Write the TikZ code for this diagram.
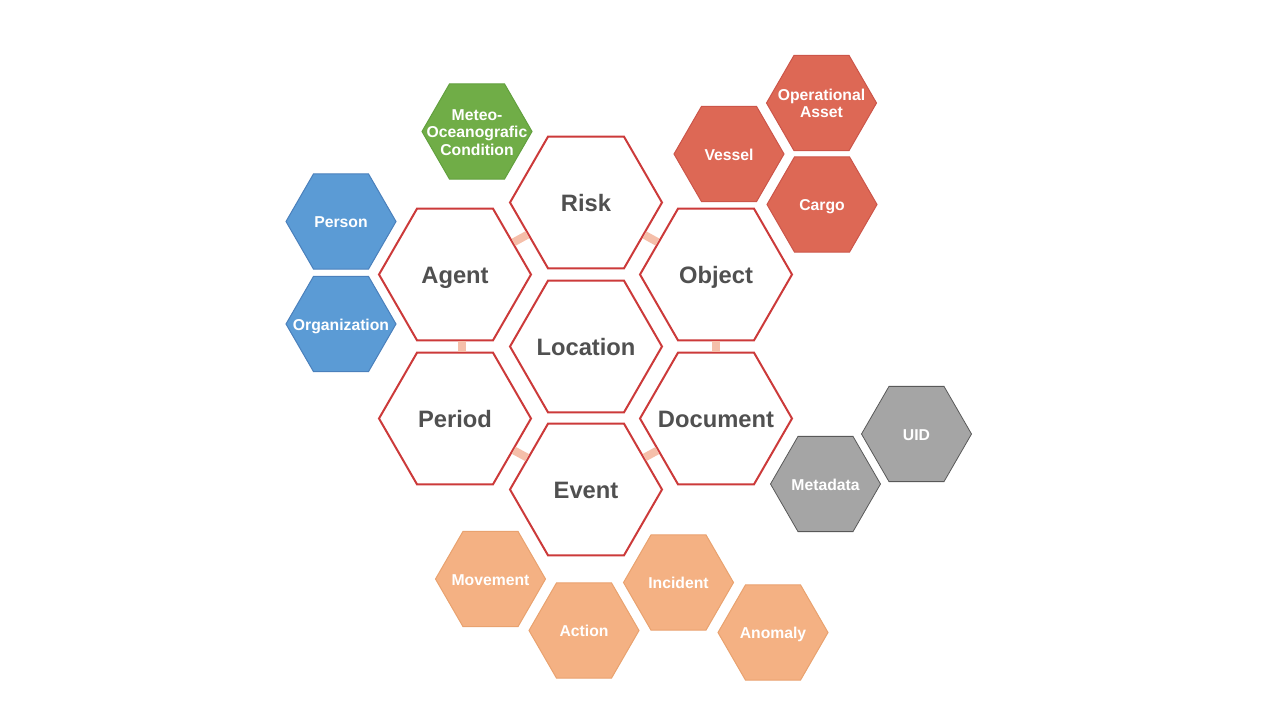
\documentclass[tikz,border=0pt]{standalone}
\usepackage{fontspec}
\setmainfont{Liberation Sans}
\usetikzlibrary{shapes.geometric}
\definecolor{HexRed}{HTML}{CC3A3A}
\definecolor{LabelGray}{HTML}{505050}
\definecolor{LinkPeach}{HTML}{F5BFAA}
\definecolor{AgentBlue}{HTML}{5B9BD5}
\definecolor{AgentBlueDark}{HTML}{4A80BC}
\definecolor{MeteoGreen}{HTML}{70AD47}
\definecolor{MeteoGreenDark}{HTML}{62A03E}
\definecolor{ObjectRed}{HTML}{DD6855}
\definecolor{ObjectRedDark}{HTML}{CC5549}
\definecolor{DocGray}{HTML}{A5A5A5}
\definecolor{DocGrayDark}{HTML}{595959}
\definecolor{EventOrange}{HTML}{F4B183}
\definecolor{EventOrangeDark}{HTML}{E9A26F}
\newcommand{\hexlabel}[1]{\makebox[0pt]{\raisebox{-0.17em}[\height][\depth]{\begin{tabular}{@{}c@{}}#1\end{tabular}}}}

\begin{document}
\begin{tikzpicture}[x=0.75pt,y=-0.75pt,
        hex/.style={regular polygon,regular polygon sides=6,inner sep=0pt},
        core/.style={hex,minimum size=114pt,draw=HexRed,line width=1.5pt,fill=white,text=LabelGray,font=\fontsize{17.8}{20}\selectfont\bfseries},
        leaf/.style={hex,minimum size=82.5pt,line width=0.75pt,text=white,font=\fontsize{11.8}{13.2}\selectfont\bfseries},
        agentleaf/.style={leaf,fill=AgentBlue,draw=AgentBlueDark},
        meteoleaf/.style={leaf,fill=MeteoGreen,draw=MeteoGreenDark},
        objectleaf/.style={leaf,fill=ObjectRed,draw=ObjectRedDark},
        docleaf/.style={leaf,fill=DocGray,draw=DocGrayDark,line width=0.6pt},
        eventleaf/.style={leaf,fill=EventOrange,draw=EventOrangeDark},
        link/.style={draw=LinkPeach,line width=6pt}
      ]
        \useasboundingbox (0,0) rectangle (1280,720);
        % core honeycomb
        \node[core] (risk) at (586,202.5) {\hexlabel{Risk}};
        \node[core] (agent) at (455,274.5) {\hexlabel{Agent}};
        \node[core] (object) at (716,274.5) {\hexlabel{Object}};
        \node[core] (location) at (586,346.5) {\hexlabel{Location}};
        \node[core] (period) at (455,418.5) {\hexlabel{Period}};
        \node[core] (document) at (716,418.5) {\hexlabel{Document}};
        \node[core] (event) at (586,489.5) {\hexlabel{Event}};
        \draw[link] (agent) -- (risk);
        \draw[link] (risk) -- (object);
        \draw[link] ([xshift=5.25pt]agent.south) -- ([xshift=5.25pt]period.north);
        \draw[link] (object) -- (document);
        \draw[link] (period) -- (event);
        \draw[link] (document) -- (event);
        % satellites
        \node[meteoleaf] (meteo) at (477,131.5) {\hexlabel{Meteo-\\Oceanografic\\Condition}};
        \node[agentleaf] (person) at (341,221.5) {\hexlabel{Person}};
        \node[agentleaf] (organization) at (341,324) {\hexlabel{Organization}};
        \node[objectleaf] (vessel) at (729,154) {\hexlabel{Vessel}};
        \node[objectleaf] (asset) at (821.5,103) {\hexlabel{Operational\\Asset}};
        \node[objectleaf] (cargo) at (822,204.5) {\hexlabel{Cargo}};
        \node[docleaf] (uid) at (916.5,434) {\hexlabel{UID}};
        \node[docleaf] (metadata) at (825.5,484) {\hexlabel{Metadata}};
        \node[eventleaf] (movement) at (490.5,579) {\hexlabel{Movement}};
        \node[eventleaf] (action) at (584,630.5) {\hexlabel{Action}};
        \node[eventleaf] (incident) at (678.5,582.5) {\hexlabel{Incident}};
        \node[eventleaf] (anomaly) at (773,632.5) {\hexlabel{Anomaly}};
      \end{tikzpicture}
\end{document}
